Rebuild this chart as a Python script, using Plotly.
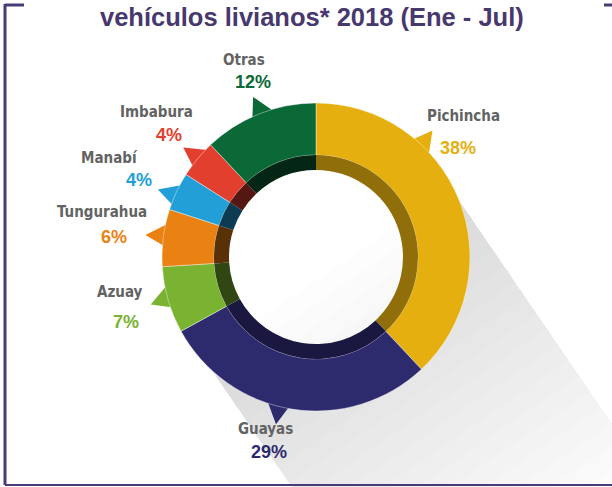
import math
import plotly.graph_objects as go

# datos
regiones = ['Pichincha', 'Guayas', 'Azuay', 'Tungurahua', 'Manabí', 'Imbabura', 'Otras']
porcentajes = [38, 29, 7, 6, 4, 4, 12]
colores = ['#E5AF0F', '#2E2A6E', '#7AB331', '#E98113', '#239FD8', '#E23F2E', '#0A6936']
titulo = 'vehículos livianos* 2018 (Ene - Jul)'

# posiciones (px) de los textos: nombre y porcentaje
pos_nombre = {
    'Pichincha': (463, 116), 'Guayas': (265, 429), 'Azuay': (120, 292),
    'Tungurahua': (102, 212), 'Manabí': (109, 158), 'Imbabura': (156, 112),
    'Otras': (244, 60),
}
pos_pct = {
    'Pichincha': (458, 148), 'Guayas': (269, 452), 'Azuay': (126, 322),
    'Tungurahua': (114, 237), 'Manabí': (139, 180), 'Imbabura': (169, 135),
    'Otras': (253, 82),
}

W, H = 612, 487
CX, CY = 316, 257
R_OUT, R_MID, R_IN = 154, 102, 87
MORADO = '#4A3A78'
FUENTE_NOMBRE = 'Liberation Sans Narrow, DejaVu Sans Condensed, Roboto, sans-serif'


def paper(x, y):
    return x / W, 1 - y / H


def dominio(r):
    return dict(x=[(CX - r) / W, (CX + r) / W], y=[1 - (CY + r) / H, 1 - (CY - r) / H])


def polar(r, ang):
    a = math.radians(ang)
    return CX + r * math.sin(a), CY - r * math.cos(a)


def oscurecer(hexcol, f):
    h = hexcol.lstrip('#')
    r, g, b = (int(h[i:i + 2], 16) for i in (0, 2, 4))
    return 'rgb(%d,%d,%d)' % (r * f, g * f, b * f)


def ruta(puntos):
    pts = [paper(x, y) for x, y in puntos]
    return 'M ' + ' L '.join(f'{x:.5f},{y:.5f}' for x, y in pts) + ' Z'


# anillo interior oscuro: más claro hacia abajo a la derecha
total = sum(porcentajes)
acum = 0
medios = []
for v in porcentajes:
    medios.append((acum + v / 2) / total * 360)
    acum += v
colores_osc = []
for c, m in zip(colores, medios):
    dist = abs((m - 120 + 180) % 360 - 180)
    colores_osc.append(oscurecer(c, 0.38 + 0.4 * max(0, 1 - dist / 140)))

fig = go.Figure()

fig.add_trace(go.Pie(
    values=porcentajes, labels=regiones, sort=False, direction='clockwise', rotation=0,
    hole=R_MID / R_OUT, domain=dominio(R_OUT),
    marker=dict(colors=colores, line=dict(color='white', width=0.4)),
    textinfo='none', showlegend=False, hoverinfo='label+percent'
))

fig.add_trace(go.Pie(
    values=porcentajes, labels=regiones, sort=False, direction='clockwise', rotation=0,
    hole=R_IN / R_MID, domain=dominio(R_MID),
    marker=dict(colors=colores_osc, line=dict(width=0)),
    textinfo='none', showlegend=False, hoverinfo='skip'
))

shapes = []

# sombra larga hacia abajo a la derecha
d = (0.565, 0.825)
n = (0.825, -0.565)
R_S = 150
ang0 = math.degrees(math.atan2(n[0], -n[1]))
arco = [polar(R_S, ang0 + k * 6) for k in range(31)]
A = (CX + R_S * n[0], CY + R_S * n[1])
B = (CX - R_S * n[0], CY - R_S * n[1])
for i in range(1, 21):
    L = 19 * i
    pts = arco + [(B[0] + L * d[0], B[1] + L * d[1]), (A[0] + L * d[0], A[1] + L * d[1])]
    shapes.append(dict(type='path', path=ruta(pts), xref='paper', yref='paper',
                       fillcolor='rgba(70,60,60,0.012)', line=dict(width=0), layer='below'))

# picos de cada sector apuntando al texto
for reg, col in zip(regiones, colores):
    nx, ny = pos_nombre[reg]
    qx, qy = pos_pct[reg]
    mx, my = (nx + qx) / 2, (ny + qy) / 2
    ang = math.degrees(math.atan2(mx - CX, CY - my))
    if reg == 'Pichincha':
        ang -= 5
    pts = [polar(R_OUT - 3, ang - 5), polar(R_OUT + 18, ang - 1.5), polar(R_OUT - 3, ang + 4)]
    shapes.append(dict(type='path', path=ruta(pts), xref='paper', yref='paper',
                       fillcolor=col, line=dict(width=0), layer='below'))

# marco
for (x0, y0), (x1, y1), w in [((5, 4), (5, 485), 3), ((5, 5), (24, 5), 3),
                              ((604, 5), (612, 5), 3), ((5, 485), (612, 485), 2)]:
    px0, py0 = paper(x0, y0)
    px1, py1 = paper(x1, y1)
    shapes.append(dict(type='line', xref='paper', yref='paper', x0=px0, y0=py0,
                       x1=px1, y1=py1, line=dict(color=MORADO, width=w)))

anotaciones = []
tx, ty = paper(312, 17)
anotaciones.append(dict(text=f'<b>{titulo}</b>', x=tx, y=ty, xref='paper', yref='paper',
                        showarrow=False, xanchor='center', yanchor='middle',
                        font=dict(family='Liberation Sans', size=25.5, color='#47386E')))
for reg, col, v in zip(regiones, colores, porcentajes):
    x, y = paper(*pos_nombre[reg])
    anotaciones.append(dict(text=f'<b>{reg}</b>', x=x, y=y, xref='paper', yref='paper',
                            showarrow=False, xanchor='center', yanchor='middle',
                            font=dict(family=FUENTE_NOMBRE, size=15, color='#636363')))
    x, y = paper(*pos_pct[reg])
    anotaciones.append(dict(text=f'<b>{v}%</b>', x=x, y=y, xref='paper', yref='paper',
                            showarrow=False, xanchor='center', yanchor='middle',
                            font=dict(family='Liberation Sans', size=18, color=col)))

fig.update_layout(
    width=W, height=H,
    margin=dict(l=0, r=0, t=0, b=0),
    paper_bgcolor='white', plot_bgcolor='white',
    shapes=shapes, annotations=anotaciones,
)

fig.write_html('out.html', config={'displayModeBar': False},
               post_script="document.body.style.margin='0';")
